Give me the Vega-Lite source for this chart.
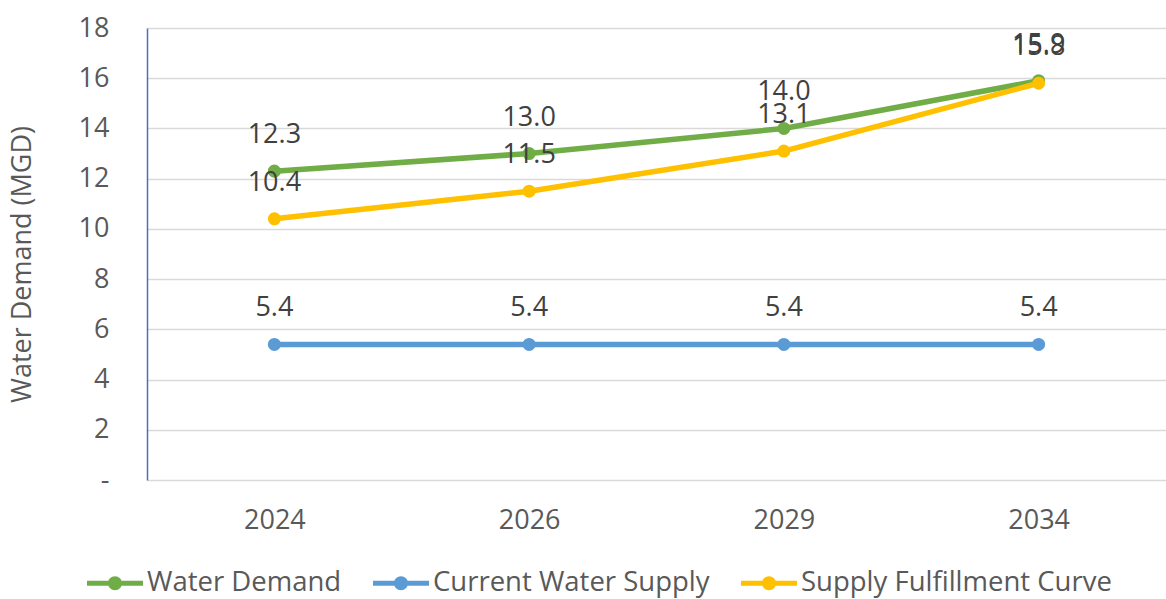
{
  "$schema": "https://vega.github.io/schema/vega-lite/v6.json",
  "width": 1019,
  "height": 452,
  "autosize": {"type": "none"},
  "padding": {"left": 147, "top": 28, "right": 0, "bottom": 119},
  "background": "white",
  "config": {
    "font": "Open Sans",
    "view": {"stroke": null}
  },
  "data": {
    "values": [
      {"year": "2024", "series": "Water Demand", "value": 12.3},
      {"year": "2026", "series": "Water Demand", "value": 13.0},
      {"year": "2029", "series": "Water Demand", "value": 14.0},
      {"year": "2034", "series": "Water Demand", "value": 15.9},
      {"year": "2024", "series": "Current Water Supply", "value": 5.4},
      {"year": "2026", "series": "Current Water Supply", "value": 5.4},
      {"year": "2029", "series": "Current Water Supply", "value": 5.4},
      {"year": "2034", "series": "Current Water Supply", "value": 5.4},
      {"year": "2024", "series": "Supply Fulfillment Curve", "value": 10.4},
      {"year": "2026", "series": "Supply Fulfillment Curve", "value": 11.5},
      {"year": "2029", "series": "Supply Fulfillment Curve", "value": 13.1},
      {"year": "2034", "series": "Supply Fulfillment Curve", "value": 15.8}
    ]
  },
  "encoding": {
    "x": {
      "field": "year",
      "type": "ordinal",
      "scale": {"type": "point", "padding": 0.5},
      "axis": {
        "title": null,
        "labelAngle": 0,
        "domain": false,
        "ticks": false,
        "labelFontSize": 27,
        "labelColor": "#595959",
        "labelPadding": 27,
        "grid": false
      }
    },
    "y": {
      "field": "value",
      "type": "quantitative",
      "scale": {"domain": [0, 18], "nice": false},
      "axis": {
        "title": "Water Demand (MGD)",
        "titleFontSize": 27,
        "titleFontWeight": "normal",
        "titleColor": "#595959",
        "titleX": -125,
        "titleY": 236,
        "titleAlign": "center",
        "titleBaseline": "middle",
        "values": [0, 2, 4, 6, 8, 10, 12, 14, 16, 18],
        "labelExpr": "datum.value == 0 ? '-' : datum.label",
        "labelFontSize": 27,
        "labelColor": "#595959",
        "labelPadding": 38,
        "ticks": false,
        "domainColor": "#4472C4",
        "domainWidth": 1.5,
        "gridColor": "#D9D9D9",
        "gridWidth": 1.5
      }
    },
    "color": {
      "field": "series",
      "type": "nominal",
      "scale": {
        "domain": ["Water Demand", "Current Water Supply", "Supply Fulfillment Curve"],
        "range": ["#70AD47", "#5B9BD5", "#FFC000"]
      },
      "legend": {
        "title": null,
        "orient": "none",
        "direction": "horizontal",
        "legendX": -60,
        "legendY": 527,
        "symbolType": "M-1,-0.09H1V0.09H-1Z M0,-0.25A0.25,0.25 0 1,1 0,0.25A0.25,0.25 0 1,1 0,-0.25Z",
        "symbolSize": 3136,
        "symbolStrokeWidth": 0,
        "symbolOpacity": 1,
        "labelFontSize": 27.5,
        "labelColor": "#595959",
        "labelOffset": 4,
        "columnPadding": 31,
        "labelLimit": 400
      }
    }
  },
  "layer": [
    {
      "mark": {"type": "line", "strokeWidth": 5.5, "strokeCap": "round"}
    },
    {
      "mark": {"type": "point", "filled": true, "opacity": 1, "size": 170}
    },
    {
      "mark": {"type": "text", "dy": -36, "fontSize": 27, "color": "#404040"},
      "encoding": {
        "text": {"field": "value", "type": "quantitative", "format": ".1f"},
        "color": {"value": "#404040"}
      }
    }
  ]
}
